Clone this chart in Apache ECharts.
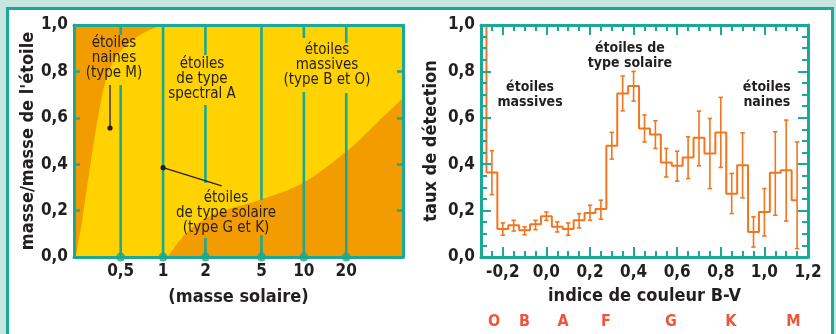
<!DOCTYPE html>
<html><head><meta charset="utf-8">
<script src="https://cdn.jsdelivr.net/npm/echarts@6/dist/echarts.min.js"></script>
<style>
html,body{margin:0;padding:0;background:#c6e6df;overflow:hidden;}
#panel{position:absolute;left:6px;top:7px;width:828px;height:400px;box-sizing:border-box;border:3px solid #19a995;background:#fff;}
#c{position:absolute;left:0;top:0;width:836px;height:334px;}
</style>
</head><body><div id="panel"></div><div id="c"></div>
<script>
// ---------- DATA ----------
// Left chart: mass ratio vs stellar mass (solar masses)
const massTicks = [0.5, 1, 2, 5, 10, 20];
const massTickLabels = ['0,5', '1', '2', '5', '10', '20'];
const massRange = [0.233, 50.6];
const ratioTicks = [0, 0.2, 0.4, 0.6, 0.8, 1.0];
// boundary between orange (upper-left) and yellow regions
const dwarfBoundaryMass  = [0.24, 0.25, 0.265, 0.285, 0.31, 0.34, 0.37, 0.40, 0.45, 0.52, 0.62, 0.75, 0.92, 1.0, 50.6];
const dwarfBoundaryRatio = [0.00, 0.06, 0.15, 0.28, 0.43, 0.58, 0.70, 0.78, 0.85, 0.90, 0.94, 0.97, 0.993, 1.0, 1.0];
// boundary between yellow and orange (lower-right) regions
const solarBoundaryMass  = [1.08, 1.32, 1.63, 2.41, 4.88, 9.86, 20.6, 33.0, 50.6];
const solarBoundaryRatio = [0.00, 0.073, 0.129, 0.19, 0.246, 0.319, 0.461, 0.578, 0.685];

// Right chart: detection rate vs B-V colour index
const bvBins = [-0.30, -0.25, -0.20, -0.15, -0.10, -0.05, 0.00, 0.05, 0.10, 0.15, 0.20, 0.25, 0.30, 0.35, 0.40, 0.45, 0.50, 0.55, 0.60, 0.65, 0.70, 0.75, 0.80, 0.85, 0.90, 0.95, 1.00, 1.05, 1.10, 1.15];
const detectRate = [1.2, 0.364, 0.121, 0.137, 0.115, 0.141, 0.176, 0.130, 0.121, 0.158, 0.190, 0.207, 0.480, 0.705, 0.737, 0.554, 0.528, 0.407, 0.393, 0.429, 0.514, 0.446, 0.537, 0.273, 0.396, 0.108, 0.194, 0.363, 0.374, 0.245];
const errLow  = [null, 0.269, 0.094, 0.112, 0.096, 0.118, 0.158, 0.108, 0.094, 0.125, 0.158, 0.163, 0.422, 0.630, 0.672, 0.496, 0.468, 0.345, 0.327, 0.338, 0.393, 0.295, 0.386, 0.187, 0.255, 0.043, 0.091, 0.180, 0.155, 0.036];
const errHigh = [null, 0.458, 0.147, 0.158, 0.130, 0.158, 0.194, 0.151, 0.147, 0.187, 0.223, 0.245, 0.537, 0.780, 0.800, 0.612, 0.587, 0.468, 0.456, 0.518, 0.629, 0.597, 0.688, 0.360, 0.535, 0.173, 0.295, 0.540, 0.590, 0.496];
const bvTicks = [-0.2, 0.0, 0.2, 0.4, 0.6, 0.8, 1.0, 1.2];
const bvTickLabels = ['-0,2', '0,0', '0,2', '0,4', '0,6', '0,8', '1,0', '1,2'];
const bvMinorTicks = [-0.25, -0.20, -0.15, -0.10, -0.05, 0.00, 0.05, 0.10, 0.15, 0.20, 0.25, 0.30, 0.35, 0.40, 0.45, 0.50, 0.55, 0.60, 0.65, 0.70, 0.75, 0.80, 0.85, 0.90, 0.95, 1.00, 1.05, 1.10, 1.15];
const spectralTypes = ['O', 'B', 'A', 'F', 'G', 'K', 'M'];
const spectralBV = [-0.24, -0.10, 0.076, 0.273, 0.571, 0.846, 1.133];

// ---------- STYLE / LAYOUT ----------
const teal = '#19a995';
const orange = '#f39c00';
const yellow = '#ffd200';
const lineOrange = '#f2761f';
const ink = '#231f20';
const FONT = "'DejaVu Sans Condensed','DejaVu Sans',sans-serif";
const L = v => Math.log10(v);
const fmt1 = v => Number(v).toFixed(1).replace('.', ',');
const nearIdx = (arr, v) => arr.findIndex(a => Math.abs(a - v) < 1e-6);

const boldText = {fontFamily: FONT, fontWeight: 'bold', fontSize: 17, color: ink};
const nameText = {fontFamily: FONT, fontWeight: 'bold', fontSize: 18, color: ink};

// vertical grid line segments (gaps where the annotations sit)
const vSegments = [
  [0.5, 0, 0.741], [0.5, 0.957, 1],
  [1, 0, 1],
  [2, 0, 0.082], [2, 0.319, 0.655], [2, 0.871, 1],
  [5, 0, 0.095], [5, 0.246, 1],
  [10, 0, 0.711], [10, 0.944, 1],
  [20, 0, 0.707], [20, 0.922, 1]
];
const leftNotes = [
  {text: 'étoiles\nnaines\n(type M)', pos: [L(0.448), 0.858]},
  {text: 'étoiles\nde type\nspectral A', pos: [L(1.89), 0.767]},
  {text: 'étoiles\nmassives\n(type B et O)', pos: [L(14.6), 0.828]},
  {text: 'étoiles\nde type solaire\n(type G et K)', pos: [L(2.80), 0.19]}
];
const pointers = [
  [L(0.42), 0.556, L(0.42), 0.741],
  [L(1.0), 0.385, L(2.61), 0.307]
];
const rightNotes = [
  {text: 'étoiles\nmassives', pos: [-0.075, 0.70]},
  {text: 'étoiles de\ntype solaire', pos: [0.383, 0.869]},
  {text: 'étoiles\nnaines', pos: [1.011, 0.70]}
];

function noteSeries(xi, yi, notes, weight, size, lh) {
  return {
    type: 'custom', xAxisIndex: xi, yAxisIndex: yi, z: 6, silent: true, clip: false,
    data: notes.map(n => n.pos),
    renderItem: (params, api) => {
      const p = api.coord([api.value(0), api.value(1)]);
      return {type: 'text', x: p[0], y: p[1], style: {
        text: notes[params.dataIndex].text, align: 'center', verticalAlign: 'middle',
        fontFamily: FONT, fontWeight: weight, fontSize: size, lineHeight: lh, fill: ink }};
    }
  };
}

const axisLineStyle = {show: true, onZero: false, lineStyle: {color: teal, width: 3}};
const noLine = {show: false, onZero: false};

const option = {
  animation: false,
  grid: [
    {left: 74, top: 25, width: 329, height: 232, show: true, backgroundColor: orange, borderWidth: 0},
    {left: 481, top: 25, width: 327, height: 232}
  ],
  xAxis: [
    {gridIndex: 0, type: 'value', position: 'bottom', min: L(massRange[0]), max: L(massRange[1]), z: 10,
     axisLine: axisLineStyle, axisTick: {show: false}, splitLine: {show: false},
     axisLabel: Object.assign({customValues: massTicks.map(L), margin: 6,
       formatter: v => massTickLabels[nearIdx(massTicks.map(L), v)]}, boldText),
     name: '(masse solaire)', nameLocation: 'middle', nameGap: 31, nameTextStyle: nameText},
    {gridIndex: 0, type: 'value', position: 'top', min: L(massRange[0]), max: L(massRange[1]), z: 10,
     axisLine: axisLineStyle, axisTick: {show: false}, axisLabel: {show: false}, splitLine: {show: false}},
    {gridIndex: 1, type: 'value', position: 'bottom', min: -0.3, max: 1.2, z: 10,
     axisLine: axisLineStyle, splitLine: {show: false},
     axisTick: {show: true, customValues: bvTicks, inside: true, length: 10, lineStyle: {color: teal, width: 2}},
     axisLabel: Object.assign({customValues: bvTicks, margin: 7,
       formatter: v => bvTickLabels[nearIdx(bvTicks, v)]}, boldText),
     name: 'indice de couleur B-V', nameLocation: 'middle', nameGap: 30, nameTextStyle: nameText},
    {gridIndex: 1, type: 'value', position: 'bottom', min: -0.3, max: 1.2, z: 10,
     axisLine: noLine, splitLine: {show: false}, axisLabel: {show: false},
     axisTick: {show: true, customValues: bvMinorTicks, inside: true, length: 6, lineStyle: {color: teal, width: 2}}},
    {gridIndex: 1, type: 'value', position: 'top', min: -0.3, max: 1.2, z: 10,
     axisLine: axisLineStyle, splitLine: {show: false}, axisLabel: {show: false},
     axisTick: {show: true, customValues: bvTicks, inside: true, length: 10, lineStyle: {color: teal, width: 2}}},
    {gridIndex: 1, type: 'value', position: 'top', min: -0.3, max: 1.2, z: 10,
     axisLine: noLine, splitLine: {show: false}, axisLabel: {show: false},
     axisTick: {show: true, customValues: bvMinorTicks, inside: true, length: 6, lineStyle: {color: teal, width: 2}}},
    {gridIndex: 1, type: 'value', position: 'bottom', offset: 57, min: -0.3, max: 1.2,
     axisLine: noLine, axisTick: {show: false}, splitLine: {show: false},
     axisLabel: {customValues: spectralBV, margin: 0, fontFamily: FONT, fontWeight: 'bold', fontSize: 16, color: '#ef553a',
       formatter: v => spectralTypes[nearIdx(spectralBV, v)]}}
  ],
  yAxis: [
    {gridIndex: 0, type: 'value', position: 'left', min: 0, max: 1, interval: 0.2, z: 10,
     axisLine: axisLineStyle, splitLine: {show: false},
     axisTick: {show: true, inside: true, length: 6, lineStyle: {color: teal, width: 2.5}},
     axisLabel: Object.assign({margin: 6, formatter: v => fmt1(v)}, boldText),
     name: "masse/masse de l'étoile", nameLocation: 'middle', nameRotate: 90, nameGap: 37, nameTextStyle: nameText},
    {gridIndex: 0, type: 'value', position: 'right', min: 0, max: 1, interval: 0.2, z: 10,
     axisLine: axisLineStyle, splitLine: {show: false}, axisLabel: {show: false},
     axisTick: {show: true, inside: true, length: 6, lineStyle: {color: teal, width: 2.5}}},
    {gridIndex: 1, type: 'value', position: 'left', min: 0, max: 1, interval: 0.2, z: 10,
     axisLine: axisLineStyle, splitLine: {show: false},
     axisTick: {show: true, inside: true, length: 10, lineStyle: {color: teal, width: 2}},
     minorTick: {show: true, splitNumber: 4, length: 6, lineStyle: {color: teal, width: 2}},
     axisLabel: Object.assign({margin: 6, formatter: v => fmt1(v)}, boldText),
     name: 'taux de détection', nameLocation: 'middle', nameRotate: 90, nameGap: 41, nameTextStyle: nameText},
    {gridIndex: 1, type: 'value', position: 'right', min: 0, max: 1, interval: 0.2, z: 10,
     axisLine: axisLineStyle, splitLine: {show: false}, axisLabel: {show: false},
     axisTick: {show: true, inside: true, length: 10, lineStyle: {color: teal, width: 2}},
     minorTick: {show: true, splitNumber: 4, length: 6, lineStyle: {color: teal, width: 2}}}
  ],
  series: [
    {type: 'line', xAxisIndex: 0, yAxisIndex: 0, z: 2, silent: true, smooth: 0.3, symbol: 'none',
     data: dwarfBoundaryMass.map((m, i) => [L(m), dwarfBoundaryRatio[i]]),
     lineStyle: {width: 0}, areaStyle: {color: yellow, opacity: 1, origin: 'start'}},
    {type: 'line', xAxisIndex: 0, yAxisIndex: 0, z: 2, silent: true, smooth: 0.3, symbol: 'none',
     data: solarBoundaryMass.map((m, i) => [L(m), solarBoundaryRatio[i]]),
     lineStyle: {width: 0}, areaStyle: {color: orange, opacity: 1, origin: 'start'}},
    {type: 'custom', xAxisIndex: 0, yAxisIndex: 0, z: 4, silent: true,
     data: vSegments.map(s => [L(s[0]), s[1], s[2]]),
     renderItem: (params, api) => {
       const a = api.coord([api.value(0), api.value(1)]);
       const b = api.coord([api.value(0), api.value(2)]);
       return {type: 'line', shape: {x1: a[0], y1: a[1], x2: b[0], y2: b[1]}, style: {stroke: teal, lineWidth: 2.6}};
     }},
    {type: 'custom', xAxisIndex: 0, yAxisIndex: 0, z: 5, silent: true,
     data: pointers,
     renderItem: (params, api) => {
       const a = api.coord([api.value(0), api.value(1)]);
       const b = api.coord([api.value(2), api.value(3)]);
       return {type: 'group', children: [
         {type: 'line', shape: {x1: a[0], y1: a[1], x2: b[0], y2: b[1]}, style: {stroke: ink, lineWidth: 1.3}},
         {type: 'circle', shape: {cx: a[0], cy: a[1], r: 2.6}, style: {fill: ink}}
       ]};
     }},
    noteSeries(0, 0, leftNotes, 'normal', 15, 15),
    {type: 'scatter', xAxisIndex: 0, yAxisIndex: 0, z: 12, silent: true, clip: false,
     symbol: 'circle', symbolSize: 9, itemStyle: {color: teal},
     data: massTicks.map(m => [L(m), 0])},
    {type: 'line', xAxisIndex: 2, yAxisIndex: 2, z: 3, silent: true, step: 'middle', symbol: 'none',
     data: bvBins.map((b, i) => [b, detectRate[i]]),
     lineStyle: {color: lineOrange, width: 2}},
    {type: 'custom', xAxisIndex: 2, yAxisIndex: 2, z: 3, silent: true,
     data: bvBins.map((b, i) => [b, errLow[i], errHigh[i]]).filter(d => d[1] !== null),
     renderItem: (params, api) => {
       const lo = api.coord([api.value(0), api.value(1)]);
       const hi = api.coord([api.value(0), api.value(2)]);
       const c = 2.2, st = {stroke: lineOrange, lineWidth: 1.6};
       return {type: 'group', children: [
         {type: 'line', shape: {x1: lo[0], y1: lo[1], x2: hi[0], y2: hi[1]}, style: st},
         {type: 'line', shape: {x1: lo[0] - c, y1: lo[1], x2: lo[0] + c, y2: lo[1]}, style: st},
         {type: 'line', shape: {x1: hi[0] - c, y1: hi[1], x2: hi[0] + c, y2: hi[1]}, style: st}
       ]};
     }},
    noteSeries(2, 2, rightNotes, 'bold', 14, 15)
  ]
};
const chart = echarts.init(document.getElementById('c'), null, {renderer: 'canvas'});
chart.setOption(option);
</script>
</body></html>
